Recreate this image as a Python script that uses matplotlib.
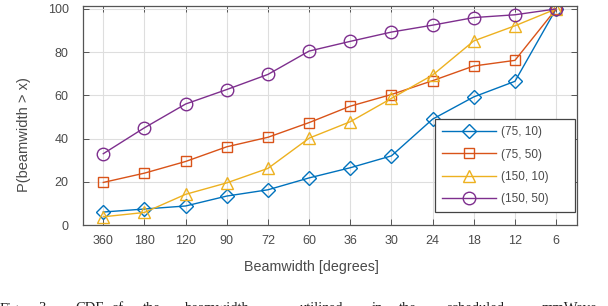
import matplotlib
matplotlib.use('Agg')
from matplotlib import pyplot as plt

# beamwidth categories (degrees) and CDF values
beamwidths = ['360', '180', '120', '90', '72', '60', '36', '30', '24', '18', '12', '6']
p_75_10 = [6.0, 7.4, 8.8, 13.4, 16.3, 21.8, 26.5, 32.0, 49.0, 59.3, 66.5, 100]
p_75_50 = [19.7, 24.0, 29.4, 36.2, 40.6, 47.4, 55.0, 60.4, 66.8, 73.6, 76.2, 100]
p_150_10 = [3.8, 5.8, 14.2, 19.5, 26.2, 40.2, 47.8, 58.6, 69.4, 85.2, 92.2, 100]
p_150_50 = [33.0, 45.0, 56.0, 62.7, 69.7, 80.5, 85.0, 89.3, 92.5, 96.0, 97.3, 100]
labels = ['(75, 10)', '(75, 50)', '(150, 10)', '(150, 50)']
caption_words = ['Fig.', '3.', 'CDF', 'of', 'the', 'beamwidth', 'utilized',
                 'in', 'the', 'scheduled', 'mmWave']

plt.rcParams['font.family'] = ['Liberation Sans', 'DejaVu Sans']
text_col = '#4a4a4a'

fig = plt.figure(figsize=(6.08, 3.06), dpi=100)
ax = fig.add_axes([82.7 / 608, 1 - 225 / 306, (576.7 - 82.7) / 608, (225 - 5.7) / 306])

x = list(range(1, len(beamwidths) + 1))
ax.plot(x, p_75_10, color='#0072BD', marker='D', markersize=7.5, mfc='none', lw=1.0, label=labels[0])
ax.plot(x, p_75_50, color='#D95319', marker='s', markersize=6.5, mfc='none', lw=1.0, label=labels[1])
ax.plot(x, p_150_10, color='#EDB120', marker='^', markersize=9, mfc='none', lw=1.0, label=labels[2])
ax.plot(x, p_150_50, color='#7E2F8E', marker='o', markersize=9, mfc='none', lw=1.0, label=labels[3])

ax.set_xlim(0.5, 12.5)
ax.set_ylim(0, 101.5)
ax.set_xticks(x)
ax.set_xticklabels(beamwidths)
ax.set_yticks([0, 20, 40, 60, 80, 100])
ax.grid(True, color='#dedede', lw=0.8)
ax.set_axisbelow(True)
ax.tick_params(direction='in', length=4, width=0.7, colors='#555555',
               labelcolor=text_col, labelsize=9, top=True, right=True)
ax.tick_params(axis='y', pad=10)
ax.tick_params(axis='x', pad=7)
for s in ax.spines.values():
    s.set_color('#555555')
    s.set_linewidth(0.9)

ax.set_xlabel('Beamwidth [degrees]', fontsize=10.3, color=text_col)
ax.xaxis.set_label_coords((311 - 82.7) / 494, -(260 - 225) / 219.3)
ax.set_ylabel('P(beamwidth > x)', fontsize=10.5, color=text_col)
ax.yaxis.set_label_coords((31 - 82.7) / 494, (225 - 135) / 219.3)

# trailing spaces widen the box like the MATLAB legend
leg = ax.legend([l + '\u00a0' * 6 for l in labels], loc='lower right',
                bbox_to_anchor=((575 - 82.7) / 494, (225 - 212) / 219.3),
                fontsize=8.5, handlelength=4.6, labelspacing=0.86,
                borderaxespad=0, fancybox=False, framealpha=1, handletextpad=0.4,
                borderpad=0.6)
leg.get_frame().set_edgecolor('#444444')
leg.get_frame().set_linewidth(0.9)
for t in leg.get_texts():
    t.set_color(text_col)

# caption of the paper, cut off by the image bottom
cap_x = [0, 38, 75, 112, 143, 185, 300, 372, 399, 446, 542]
for w, cx in zip(caption_words, cap_x):
    fig.text(cx / 608, -6.5 / 306, w, fontsize=10.5, family='Liberation Serif',
             color='#222222', ha='left', va='baseline')

fig.savefig('out.png', dpi=100)
